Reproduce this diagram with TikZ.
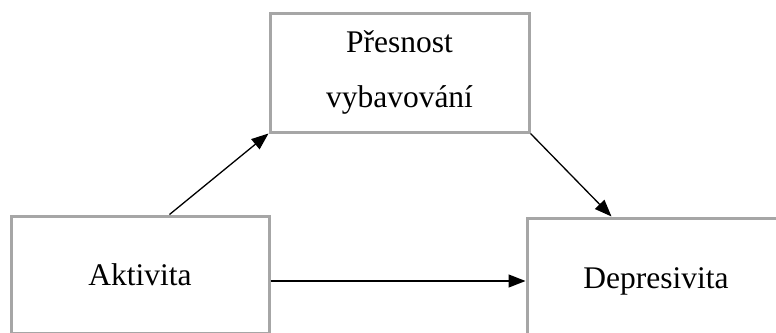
\documentclass[tikz,border=0pt]{standalone}
\usepackage{fontspec}
\setmainfont{Liberation Serif}
\usetikzlibrary{arrows.meta}
\definecolor{boxgray}{RGB}{166,166,166}
\tikzset{
  box/.style={draw=boxgray, line width=3pt, inner sep=0pt, align=center,
    font=\fontsize{31.5}{55}\selectfont},
  arr/.style={line width=1.3pt, -{Triangle[length=17pt,width=13pt]}}
}
\begin{document}
\begin{tikzpicture}[x=1pt,y=-1pt]
\useasboundingbox (0,0) rectangle (776,332);
\clip (0,0) rectangle (776,332);
\node[box, minimum width=259pt, minimum height=119pt] (tb) at (399.5,72.5) {Přesnost\\vybavování};
\node[box, minimum width=258pt, minimum height=117pt] (lb) at (140,274.5) {Aktivita};
\node[box, minimum width=258pt, minimum height=126pt] (rb) at (656,281) {Depresivita};
\draw[arr] ([xshift=160pt]lb.north west) -- (tb.south west);
\draw[arr] (tb.south east) -- ([xshift=86pt]rb.north west);
\draw[arr] (lb.east |- rb.west) -- (rb.west);
\end{tikzpicture}
\end{document}
